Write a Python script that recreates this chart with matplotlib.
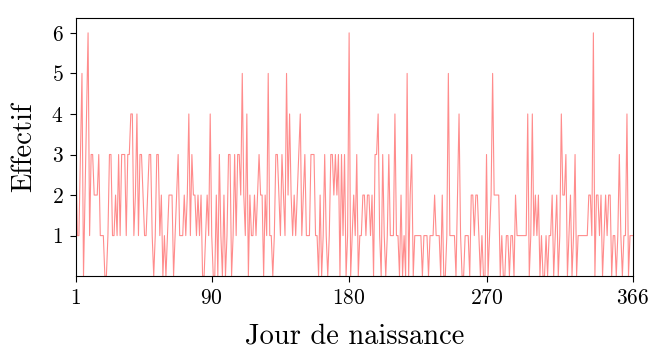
import matplotlib.pyplot as plt

plt.rcParams['font.family'] = 'cmr10'
plt.rcParams['axes.formatter.use_mathtext'] = True

# Nombre de naissances pour chaque jour de l'année (1 à 366)
effectif = [
    3, 1, 1, 3, 5, 0, 2, 4, 6, 1,
    3, 3, 2, 2, 2, 3, 1, 1, 1, 0,
    0, 1, 3, 3, 1, 1, 2, 1, 3, 1,
    3, 3, 3, 1, 3, 3, 4, 4, 1, 2,
    4, 1, 3, 3, 2, 1, 1, 2, 3, 3,
    1, 0, 1, 3, 3, 1, 2, 0, 1, 0,
    1, 2, 2, 2, 0, 1, 2, 3, 1, 1,
    1, 2, 1, 2, 4, 1, 3, 2, 2, 1,
    2, 1, 2, 0, 0, 1, 2, 1, 4, 1,
    0, 0, 2, 0, 3, 1, 0, 2, 0, 1,
    3, 3, 0, 1, 3, 1, 3, 3, 2, 5,
    2, 1, 4, 0, 2, 1, 1, 2, 1, 2,
    3, 2, 2, 0, 2, 1, 5, 1, 1, 0,
    1, 3, 3, 2, 1, 3, 2, 1, 5, 2,
    4, 2, 1, 2, 1, 2, 3, 4, 1, 2,
    3, 1, 1, 1, 3, 3, 3, 1, 1, 0,
    2, 0, 1, 3, 1, 0, 1, 3, 3, 2,
    3, 2, 3, 0, 3, 1, 3, 0, 1, 6,
    0, 1, 2, 1, 3, 0, 1, 1, 2, 2,
    1, 2, 2, 1, 2, 0, 3, 3, 4, 1,
    0, 3, 1, 0, 1, 3, 1, 1, 1, 4,
    1, 1, 0, 2, 0, 1, 0, 5, 0, 2,
    3, 0, 1, 1, 1, 1, 1, 0, 1, 1,
    1, 0, 1, 1, 1, 2, 1, 1, 1, 0,
    2, 0, 0, 1, 5, 1, 1, 1, 1, 0,
    2, 4, 1, 0, 0, 1, 1, 1, 0, 2,
    2, 1, 2, 2, 1, 0, 1, 0, 0, 3,
    0, 1, 2, 5, 2, 2, 2, 2, 0, 1,
    0, 0, 1, 1, 0, 1, 1, 0, 2, 1,
    1, 1, 1, 1, 1, 1, 4, 0, 1, 4,
    1, 2, 1, 2, 0, 1, 0, 0, 1, 0,
    1, 1, 2, 0, 1, 2, 0, 1, 4, 2,
    2, 3, 0, 1, 2, 0, 1, 3, 0, 1,
    1, 1, 1, 1, 1, 1, 2, 2, 1, 6,
    0, 2, 2, 1, 2, 0, 1, 2, 1, 2,
    2, 0, 1, 1, 0, 1, 3, 1, 0, 1,
    1, 4, 0, 1, 1, 1,
]
jours = list(range(1, len(effectif) + 1))

x_ticks = [1, 90, 180, 270, 366]
y_ticks = [1, 2, 3, 4, 5, 6]

fig = plt.figure(figsize=(6.54, 3.5), dpi=100)
ax = fig.add_axes([0.116, 0.211, 0.852, 0.738])

ax.plot(jours, effectif, color='#ff0000', alpha=0.45, linewidth=0.8)

ax.set_xlim(1, 366)
ax.set_ylim(0, 6.37)
ax.set_xticks(x_ticks)
ax.set_yticks(y_ticks)
ax.tick_params(labelsize=15.5, direction='out', length=4, width=0.8, pad=5)
for s in ax.spines.values():
    s.set_linewidth(0.8)

ax.set_xlabel('Jour de naissance', fontsize=20.5, labelpad=11)
ax.set_ylabel('Effectif', fontsize=20.5, labelpad=10)

fig.savefig('out.png', dpi=100)
